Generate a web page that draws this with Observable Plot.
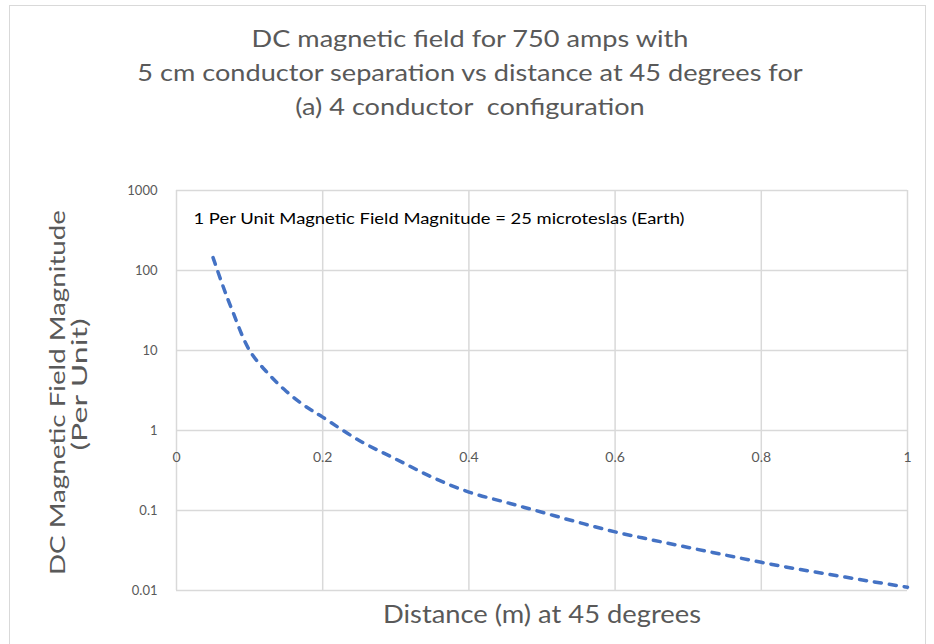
<!DOCTYPE html>
<html>
<head>
<meta charset="utf-8">
<script src="https://cdn.jsdelivr.net/npm/d3@7"></script>
<script src="https://cdn.jsdelivr.net/npm/@observablehq/plot@0.6"></script>
<style>
  html, body { margin: 0; padding: 0; background: #fff; }
  #wrap { position: relative; width: 934px; height: 644px; overflow: hidden; font-family: Lato, "Open Sans", sans-serif; }
  #border { position: absolute; left: 9px; top: 5px; width: 917px; height: 660px; border: 1px solid #d9d9d9; box-sizing: border-box; }
  #title { position: absolute; left: 12px; width: 916px; top: 21px; text-align: center; color: #595959; font-size: 23px; line-height: 34px; transform: scaleX(1.18); transform-origin: 458px 0; }
  #chart { position: absolute; left: 0; top: 150px; }
</style>
</head>
<body>
<div id="wrap">
  <div id="border"></div>
  <div id="title"></div>
  <div id="chart"></div>
</div>
<script>
const titleLines = [
  "DC magnetic field for 750 amps with",
  "5 cm conductor separation vs distance at 45 degrees for",
  "(a) 4 conductor  configuration"
];
const yTitleLines = ["DC Magnetic Field Magnitude", "(Per Unit)"];
const xTitle = "Distance (m) at 45 degrees";
const note = "1 Per Unit Magnetic Field Magnitude = 25 microteslas (Earth)";

const distance = [0.05, 0.0625, 0.075, 0.1, 0.125, 0.15, 0.175, 0.2, 0.25, 0.3, 0.35, 0.4, 0.45, 0.5, 0.55, 0.6, 0.65, 0.7, 0.75, 0.8, 0.85, 0.9, 0.95, 1.0];
const field    = [145, 68, 34, 10, 5.2, 3.1, 2.05, 1.47, 0.75, 0.44, 0.26, 0.17, 0.127, 0.095, 0.071, 0.054, 0.043, 0.0345, 0.0278, 0.0225, 0.0185, 0.0155, 0.013, 0.011];

const xTicks = [0, 0.2, 0.4, 0.6, 0.8, 1];
const xTickLabels = ["0", "0.2", "0.4", "0.6", "0.8", "1"];
const yTicks = [0.01, 0.1, 1, 10, 100, 1000];
const yTickLabels = ["0.01", "0.1", "1", "10", "100", "1000"];

document.getElementById("title").innerHTML = titleLines.map(t => `<div>${t.replace(/  /g, " &nbsp;")}</div>`).join("");

const data = distance.map((d, i) => ({distance: d, field: field[i]}));
const xt = xTicks.map((v, i) => ({v, label: xTickLabels[i]}));
const yt = yTicks.map((v, i) => ({v, label: yTickLabels[i]}));

const plot = Plot.plot({
  width: 934,
  height: 494,
  marginLeft: 176,
  marginRight: 27,
  marginTop: 40,
  marginBottom: 54,
  style: {fontFamily: "Lato, 'Open Sans', sans-serif", background: "transparent", overflow: "visible"},
  x: {domain: [0, 1], axis: null},
  y: {type: "log", domain: [0.01, 1000], axis: null},
  marks: [
    Plot.gridX(xTicks, {stroke: "#d9d9d9", strokeOpacity: 1, strokeWidth: 1.5}),
    Plot.gridY(yTicks, {stroke: "#d9d9d9", strokeOpacity: 1, strokeWidth: 1.5}),
    Plot.text(yt, {x: () => 0, y: "v", text: "label", dx: -19, textAnchor: "end", fontSize: 13, fill: "#595959"}),
    Plot.text(xt, {x: "v", y: () => 1, text: "label", dy: 27, fontSize: 14, fill: "#595959"}),
    Plot.line(data, {x: "distance", y: "field", stroke: "#4472C4", strokeWidth: 3.5, strokeDasharray: "7,8", strokeLinecap: "round", curve: "catmull-rom"}),
    Plot.text([note], {frameAnchor: "top-left", dx: 17, dy: 29, textAnchor: "start", lineAnchor: "middle", fontSize: 15, fill: "#000"}),
    Plot.text([yTitleLines[0]], {frameAnchor: "left", rotate: -90, dx: -119, dy: 2, textAnchor: "middle", lineAnchor: "middle", fontSize: 22, fill: "#595959"}),
    Plot.text([yTitleLines[1]], {frameAnchor: "left", rotate: -90, dx: -97, dy: -6, textAnchor: "middle", lineAnchor: "middle", fontSize: 22, fill: "#595959"}),
    Plot.text([xTitle], {frameAnchor: "bottom", dy: 24, lineAnchor: "middle", fontSize: 25, fill: "#595959"})
  ]
});

// Horizontal stretch of the reference image: widen the long texts to its measured lengths
const stretch = new Map([[note, 491], [xTitle, 318], [yTitleLines[0], 365], [yTitleLines[1], 132]]);
d3.select(plot).selectAll("text").each(function () {
  const len = stretch.get(this.textContent);
  if (len) { this.setAttribute("textLength", len); this.setAttribute("lengthAdjust", "spacingAndGlyphs"); }
});
document.getElementById("chart").appendChild(plot);
</script>
</body>
</html>
